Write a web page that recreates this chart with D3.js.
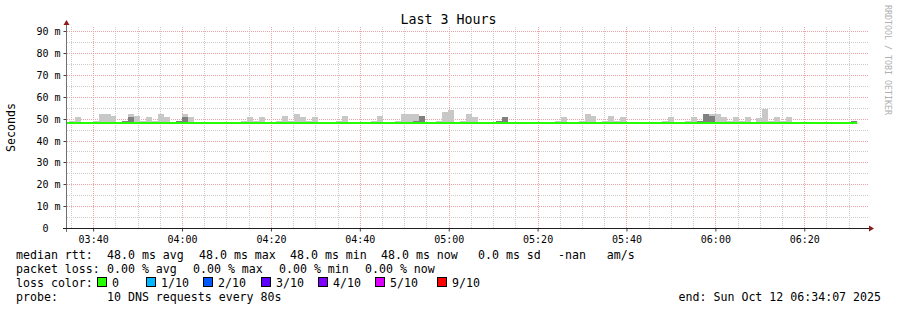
<!DOCTYPE html>
<html lang="en">
<head>
    <meta charset="UTF-8">
    <script src="https://cdn.jsdelivr.net/npm/d3@7/dist/d3.min.js"></script>
    <title>Last 3 Hours</title>
    <style>
        body {
            margin: 0;
            background: #ffffff;
        }
        #graph text {
            font-family: "DejaVu Sans Mono", monospace;
            white-space: pre;
        }
    </style>
</head>
<body>
    <svg id="graph"></svg>
</body>

<script>
    // time window of the graph
    const rangeStart = "2025-10-12 03:34:07";
    const rangeEnd = "2025-10-12 06:34:07";
    const firstStep = "2025-10-12 03:33:15";
    const stepSeconds = 80;

    // median rtt per 80s step (ms)
    const medianMs = [
        48, 48, 48, 48, 48, 48, 48, 48, 48, 48,
        48, 48, 48, 48, 48, 48, 48, 48, 48, 48,
        48, 48, 48, 48, 48, 48, 48, 48, 48, 48,
        48, 48, 48, 48, 48, 48, 48, 48, 48, 48,
        48, 48, 48, 48, 48, 48, 48, 48, 48, 48,
        48, 48, 48, 48, 48, 48, 48, 48, 48, 48,
        48, 48, 48, 48, 48, 48, 48, 48, 48, 48,
        48, 48, 48, 48, 48, 48, 48, 48, 48, 48,
        48, 48, 48, 48, 48, 48, 48, 48, 48, 48,
        48, 48, 48, 48, 48, 48, 48, 48, 48, 48,
        48, 48, 48, 48, 48, 48, 48, 48, 48, 48,
        48, 48, 48, 48, 48, 48, 48, 48, 48, 48,
        48, 48, 48, 48, 48, 48, 48, 48, 48, 48,
        48, 48, 48, 48
    ];

    // smoke: [step index, highest ping in ms]
    const lightSmoke = [
        [1, 48.9], [2, 50.7], [5, 48.9], [6, 52.1], [7, 52.1], [8, 51.2],
        [11, 52.1], [12, 51.2], [13, 48.9], [14, 50.7], [15, 48.9], [16, 52.1], [17, 50.7],
        [20, 52.1], [21, 50.7], [30, 48.9], [31, 50.7], [32, 48.9], [33, 50.7],
        [36, 48.9], [37, 51.2], [38, 48.9], [39, 52.1], [40, 50.7], [41, 48.9], [42, 50.7],
        [46, 48.9], [47, 51.2], [52, 48.9], [53, 51.2],
        [56, 48.9], [57, 52.1], [58, 52.1], [59, 52.1],
        [63, 48.9], [64, 53.0], [65, 53.9], [67, 48.9], [68, 52.1], [69, 50.7],
        [83, 48.9], [84, 50.7], [87, 48.9], [88, 52.1], [89, 51.2],
        [91, 48.9], [92, 51.2], [93, 48.9], [94, 50.7],
        [101, 48.9], [102, 50.7], [105, 48.9], [106, 50.7],
        [109, 52.1], [110, 52.1], [111, 50.7], [112, 48.9], [113, 50.7], [114, 48.9], [115, 50.7],
        [117, 50.2], [118, 54.5], [119, 48.9], [120, 50.7], [121, 48.9], [122, 50.7]
    ];
    const darkSmoke = [
        [10, 48.9], [11, 50.7], [19, 48.9], [20, 50.7], [59, 48.9], [60, 51.2],
        [73, 48.9], [74, 50.7], [107, 48.9], [108, 52.1], [109, 51.2], [133, 48.9]
    ];

    const yMajor = [0, 10, 20, 30, 40, 50, 60, 70, 80, 90];
    const yMinor = [5, 15, 25, 35, 45, 55, 65, 75, 85];

    const lossLabels = ["0", "1/10", "2/10", "3/10", "4/10", "5/10", "9/10"];
    const lossColors = ["#26ff00", "#00b8ff", "#0059ff", "#5e00ff", "#7e00ff", "#dd00ff", "#ff0000"];

    const rttLegend = [
        ["median rtt:", 16], ["48.0 ms avg", 107], ["48.0 ms max", 199], ["48.0 ms min", 290],
        ["48.0 ms now", 381], ["0.0 ms sd", 478], ["-nan   am/s", 558]
    ];
    const lossLegend = [
        ["packet loss:", 16], ["0.00 % avg", 107], ["0.00 % max", 193], ["0.00 % min", 279],
        ["0.00 % now", 365]
    ];
    const lossSwatchX = [97, 146, 203, 261, 318, 375, 437];

    const width = 897;
    const height = 310;
    const plot = {left: 67, right: 867, top: 27, bottom: 228};

    const parse = d3.timeParse("%Y-%m-%d %H:%M:%S");
    const t0 = parse(firstStep);
    const stepTime = k => new Date(t0.getTime() + k * stepSeconds * 1000);

    const x = d3.scaleTime()
        .domain([parse(rangeStart), parse(rangeEnd)])
        .range([plot.left, plot.right]);

    const y = d3.scaleLinear()
        .domain([0, 91.9])
        .range([plot.bottom, plot.top]);

    const svg = d3.select("#graph")
        .attr("width", width)
        .attr("height", height)
        .attr("viewBox", [0, 0, width, height]);

    svg.append("defs").append("clipPath")
        .attr("id", "plot-clip")
        .append("rect")
        .attr("x", plot.left)
        .attr("y", plot.top)
        .attr("width", plot.right - plot.left)
        .attr("height", plot.bottom - plot.top);

    // grid
    const minorTimes = x.ticks(d3.timeMinute.every(5));
    const majorTimes = x.ticks(d3.timeMinute.every(20));
    const grid = svg.append("g")
        .attr("stroke-width", 1)
        .attr("stroke-dasharray", "1,1")
        .attr("shape-rendering", "crispEdges");

    grid.append("g").attr("stroke", "#cccccc")
        .selectAll("line")
        .data(minorTimes)
        .join("line")
        .attr("x1", d => Math.round(x(d)) + 0.5)
        .attr("x2", d => Math.round(x(d)) + 0.5)
        .attr("y1", plot.bottom)
        .attr("y2", plot.top - 1);

    grid.append("g").attr("stroke", "#cccccc")
        .selectAll("line")
        .data(yMinor)
        .join("line")
        .attr("x1", plot.left)
        .attr("x2", plot.right + 1)
        .attr("y1", d => Math.round(y(d)) + 0.5)
        .attr("y2", d => Math.round(y(d)) + 0.5);

    grid.append("g").attr("stroke", "#eca3a3")
        .selectAll("line")
        .data(majorTimes)
        .join("line")
        .attr("x1", d => Math.round(x(d)) + 0.5)
        .attr("x2", d => Math.round(x(d)) + 0.5)
        .attr("y1", plot.bottom)
        .attr("y2", plot.top - 1);

    grid.append("g").attr("stroke", "#eca3a3")
        .selectAll("line")
        .data(yMajor.filter(d => d > 0))
        .join("line")
        .attr("x1", plot.left)
        .attr("x2", plot.right + 1)
        .attr("y1", d => Math.round(y(d)) + 0.5)
        .attr("y2", d => Math.round(y(d)) + 0.5);

    // smoke
    const smoke = svg.append("g")
        .attr("clip-path", "url(#plot-clip)")
        .attr("shape-rendering", "crispEdges");

    function drawSmoke(data, color) {
        smoke.append("g")
            .attr("fill", color)
            .selectAll("rect")
            .data(data)
            .join("rect")
            .attr("x", d => x(stepTime(d[0])))
            .attr("width", d => x(stepTime(d[0] + 1)) - x(stepTime(d[0])))
            .attr("y", d => y(d[1]))
            .attr("height", d => y(medianMs[d[0]]) - y(d[1]) + 1);
    }
    drawSmoke(lightSmoke, "#c8c8c8");
    drawSmoke(darkSmoke, "#808080");

    // median line
    const medianPoints = medianMs.map((v, k) => [stepTime(k), v]);
    medianPoints.push([stepTime(medianMs.length), medianMs[medianMs.length - 1]]);

    svg.append("path")
        .datum(medianPoints)
        .attr("clip-path", "url(#plot-clip)")
        .attr("fill", "none")
        .attr("stroke", lossColors[0])
        .attr("stroke-width", 2)
        .attr("d", d3.line()
            .curve(d3.curveStepAfter)
            .x(d => x(d[0]))
            .y(d => y(d[1])));

    // axes
    const axisColor = "#404040";
    const arrowColor = "#8c1c1c";

    const yAxis = svg.append("g")
        .attr("transform", `translate(${plot.left - 0.5},0)`)
        .call(d3.axisLeft(y)
            .tickValues(yMajor)
            .tickSize(3)
            .tickPadding(3)
            .tickFormat(d => d === 0 ? "0  " : `${d} m`));
    yAxis.select(".domain").remove();
    yAxis.selectAll(".tick line").attr("stroke", axisColor);
    yAxis.selectAll(".tick text")
        .attr("fill", "#000")
        .attr("font-size", "10px")
        .attr("dy", "0.36em");
    yAxis.selectAll(".tick").attr("transform", d => `translate(0,${Math.round(y(d)) + 0.5})`);

    const xAxis = svg.append("g")
        .attr("transform", `translate(0,${plot.bottom + 0.5})`)
        .call(d3.axisBottom(x)
            .tickValues(majorTimes)
            .tickSize(3)
            .tickPadding(4)
            .tickFormat(d3.timeFormat("%H:%M")));
    xAxis.select(".domain").remove();
    xAxis.selectAll(".tick line").attr("stroke", axisColor);
    xAxis.selectAll(".tick text")
        .attr("fill", "#000")
        .attr("font-size", "10px");

    svg.append("line")
        .attr("x1", plot.left - 0.5)
        .attr("x2", plot.left - 0.5)
        .attr("y1", plot.bottom + 4)
        .attr("y2", plot.top - 3)
        .attr("stroke", "#707070");

    svg.append("line")
        .attr("x1", plot.left - 4)
        .attr("x2", plot.right + 3)
        .attr("y1", plot.bottom + 0.5)
        .attr("y2", plot.bottom + 0.5)
        .attr("stroke", "#202020");

    svg.append("path")
        .attr("fill", arrowColor)
        .attr("d", `M${plot.left - 3.5},${plot.top - 2} L${plot.left + 2.5},${plot.top - 2} L${plot.left - 0.5},${plot.top - 7} Z`);

    svg.append("path")
        .attr("fill", arrowColor)
        .attr("d", `M${plot.right + 2},${plot.bottom - 2.5} L${plot.right + 2},${plot.bottom + 3.5} L${plot.right + 7},${plot.bottom + 0.5} Z`);

    // titles
    svg.append("text")
        .attr("x", width / 2)
        .attr("y", 24)
        .attr("text-anchor", "middle")
        .attr("font-size", "13.3px")
        .text("Last 3 Hours");

    svg.append("text")
        .attr("transform", `translate(15,${(plot.top + plot.bottom) / 2}) rotate(-90)`)
        .attr("text-anchor", "middle")
        .attr("font-size", "11.6px")
        .text("Seconds");

    svg.append("text")
        .attr("transform", "translate(884.5,5) rotate(90)")
        .attr("font-size", "8.3px")
        .attr("fill", "#b0b0b0")
        .text("RRDTOOL / TOBI OETIKER");

    // legend
    const legend = svg.append("g").attr("font-size", "11.6px");

    legend.selectAll("text.rtt")
        .data(rttLegend)
        .join("text")
        .attr("class", "rtt")
        .attr("x", d => d[1])
        .attr("y", 258.5)
        .text(d => d[0]);

    legend.selectAll("text.loss")
        .data(lossLegend)
        .join("text")
        .attr("class", "loss")
        .attr("x", d => d[1])
        .attr("y", 272.5)
        .text(d => d[0]);

    legend.append("text")
        .attr("x", 16)
        .attr("y", 286.5)
        .text("loss color:");

    const swatch = legend.selectAll("g.swatch")
        .data(lossLabels)
        .join("g")
        .attr("class", "swatch")
        .attr("transform", (d, i) => `translate(${lossSwatchX[i]},277)`);

    swatch.append("rect")
        .attr("x", 0.5)
        .attr("y", 0.5)
        .attr("width", 9)
        .attr("height", 9)
        .attr("fill", (d, i) => lossColors[i])
        .attr("stroke", "#000");

    swatch.append("text")
        .attr("x", 15)
        .attr("y", 9.5)
        .text(d => d);

    legend.append("text")
        .attr("x", 16)
        .attr("y", 300.5)
        .text("probe:");

    legend.append("text")
        .attr("x", 107)
        .attr("y", 300.5)
        .text("10 DNS requests every 80s");

    legend.append("text")
        .attr("x", 881)
        .attr("y", 300.5)
        .attr("text-anchor", "end")
        .text("end: Sun Oct 12 06:34:07 2025");
</script>
</html>
